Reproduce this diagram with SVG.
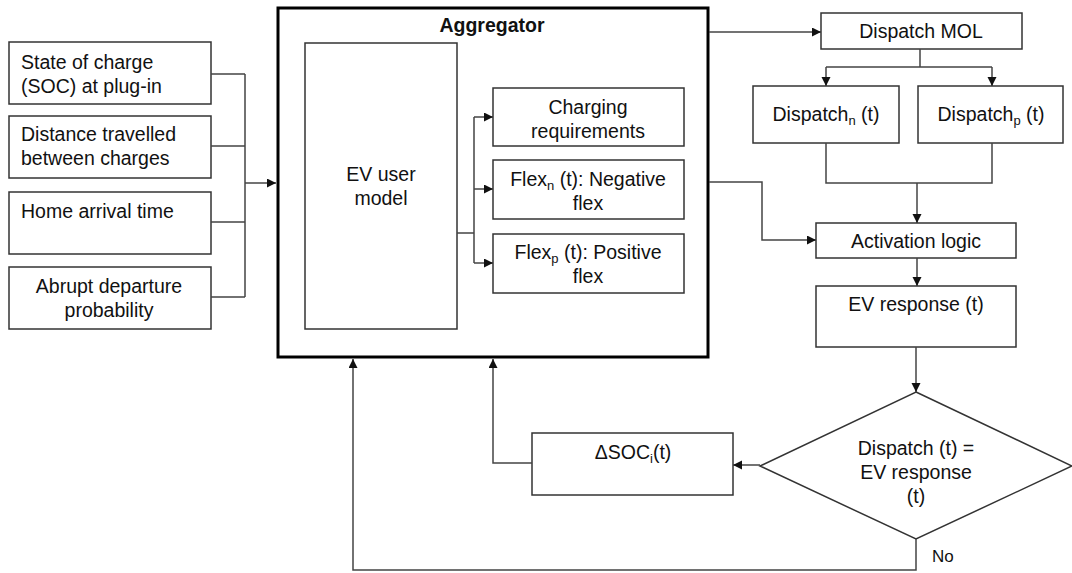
<svg xmlns="http://www.w3.org/2000/svg" width="1072" height="573" viewBox="0 0 1072 573">
<style>
.box{fill:#fff;stroke:#333;stroke-width:1.5}
.agg{fill:#fff;stroke:#000;stroke-width:3}
.t{font-family:"Liberation Sans",Arial,sans-serif;font-size:19.5px;fill:#111}
.c{text-anchor:middle}
.b{font-weight:bold}
.sub{font-size:13px}
.ln{fill:none;stroke:#444;stroke-width:1.5}
</style>
<defs>
<marker id="ah" markerUnits="userSpaceOnUse" markerWidth="10" markerHeight="10" refX="9" refY="4.5" orient="auto">
<path d="M0,0 L9,4.5 L0,9 Z" fill="#111"/>
</marker>
</defs>
<rect width="1072" height="573" fill="#fff"/>

<g id="aggregator">
<rect class="agg" x="278" y="8" width="430" height="349"/>
<text class="t c b" x="492" y="32">Aggregator</text>
</g>
<g id="ev-user-model">
<rect class="box" x="305" y="43" width="152" height="286"/>
<text class="t c" x="381" y="181">EV user</text>
<text class="t c" x="381" y="205">model</text>
</g>
<g id="soc">
<rect class="box" x="9" y="42" width="202" height="62"/>
<text class="t" x="21" y="69">State of charge</text>
<text class="t" x="21" y="93">(SOC) at plug-in</text>
</g>
<g id="distance">
<rect class="box" x="9" y="116" width="202" height="62"/>
<text class="t" x="21" y="141">Distance travelled</text>
<text class="t" x="21" y="165">between charges</text>
</g>
<g id="arrival">
<rect class="box" x="9" y="192" width="202" height="62"/>
<text class="t" x="21" y="218">Home arrival time</text>
</g>
<g id="departure">
<rect class="box" x="9" y="267" width="202" height="62"/>
<text class="t c" x="109" y="293">Abrupt departure</text>
<text class="t c" x="109" y="317">probability</text>
</g>
<g id="charging-req">
<rect class="box" x="493" y="88" width="191" height="58"/>
<text class="t c" x="588" y="114">Charging</text>
<text class="t c" x="588" y="138">requirements</text>
</g>
<g id="flex-n">
<rect class="box" x="493" y="160" width="191" height="59"/>
<text class="t c" x="588" y="186">Flex<tspan class="sub" dy="4">n</tspan><tspan dy="-4"> (t): Negative</tspan></text>
<text class="t c" x="588" y="210">flex</text>
</g>
<g id="flex-p">
<rect class="box" x="493" y="234" width="191" height="59"/>
<text class="t c" x="588" y="259">Flex<tspan class="sub" dy="4">p</tspan><tspan dy="-4"> (t): Positive</tspan></text>
<text class="t c" x="588" y="283">flex</text>
</g>
<g id="dispatch-mol">
<rect class="box" x="821" y="13" width="201" height="36"/>
<text class="t c" x="921" y="38">Dispatch MOL</text>
</g>
<g id="dispatch-n">
<rect class="box" x="753" y="86" width="146" height="57"/>
<text class="t c" x="826" y="121">Dispatch<tspan class="sub" dy="4">n</tspan><tspan dy="-4"> (t)</tspan></text>
</g>
<g id="dispatch-p">
<rect class="box" x="918" y="86" width="145" height="57"/>
<text class="t c" x="991" y="121">Dispatch<tspan class="sub" dy="4">p</tspan><tspan dy="-4"> (t)</tspan></text>
</g>
<g id="activation">
<rect class="box" x="816" y="223" width="200" height="35"/>
<text class="t c" x="916" y="248">Activation logic</text>
</g>
<g id="ev-response">
<rect class="box" x="816" y="286" width="200" height="61"/>
<text class="t c" x="916" y="311">EV response (t)</text>
</g>
<g id="decision">
<polygon class="box" points="916,392 1072,466 916,539 760,466"/>
<text class="t c" x="916" y="455">Dispatch (t) =</text>
<text class="t c" x="916" y="479">EV response</text>
<text class="t c" x="916" y="503">(t)</text>
</g>
<g id="delta-soc">
<rect class="box" x="532" y="433" width="201" height="62"/>
<text class="t c" x="633" y="459">ΔSOC<tspan class="sub" dy="4">i</tspan><tspan dy="-4">(t)</tspan></text>
</g>

<g id="connectors">
<path class="ln" d="M211,74 H245 M211,146 H245 M211,222 H245 M211,297 H245 M245,74 V297"/>
<path class="ln" d="M245,183 H276" marker-end="url(#ah)"/>
<path class="ln" d="M457,233 H474 M474,117 V263"/>
<path class="ln" d="M474,117 H493" marker-end="url(#ah)"/>
<path class="ln" d="M474,189 H493" marker-end="url(#ah)"/>
<path class="ln" d="M474,263 H493" marker-end="url(#ah)"/>
<path class="ln" d="M709,32 H821" marker-end="url(#ah)"/>
<path class="ln" d="M920,49 V67 M826,67 H992"/>
<path class="ln" d="M826,67 V86" marker-end="url(#ah)"/>
<path class="ln" d="M992,67 V86" marker-end="url(#ah)"/>
<path class="ln" d="M826,143 V183 H992 V143"/>
<path class="ln" d="M917,183 V223" marker-end="url(#ah)"/>
<path class="ln" d="M709,182 H762 V240 H816" marker-end="url(#ah)"/>
<path class="ln" d="M917,258 V286" marker-end="url(#ah)"/>
<path class="ln" d="M916,347 V392" marker-end="url(#ah)"/>
<path class="ln" d="M760,465 H733" marker-end="url(#ah)"/>
<path class="ln" d="M532,463 H493 V359" marker-end="url(#ah)"/>
<path class="ln" d="M916,539 V570 H353 V359" marker-end="url(#ah)"/>
<text class="t" x="932" y="562" style="font-size:17px">No</text>
</g>
</svg>
